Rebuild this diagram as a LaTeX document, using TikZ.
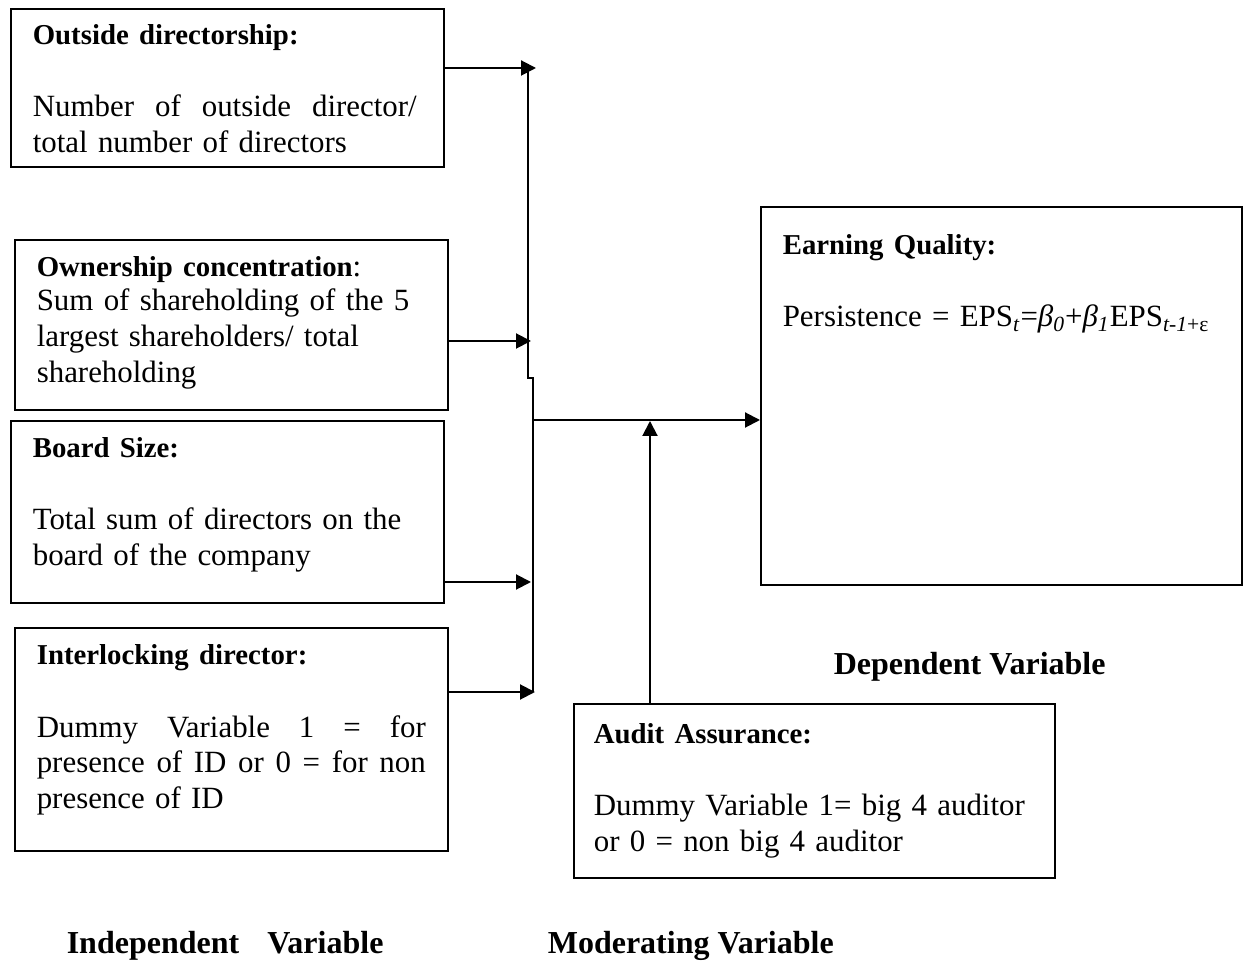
\documentclass[tikz,border=0pt]{standalone}
\usepackage{fontspec}
\setmainfont{Liberation Serif}
\usetikzlibrary{arrows.meta}

\newcommand\hd[1]{{\fontsize{14.4}{18}\selectfont\bfseries #1}}

\begin{document}
\begin{tikzpicture}[x=0.5pt, y=-0.5pt, thick,
    box/.style = {draw, line width=0.9pt, anchor=north west, inner sep=0pt},
    txt/.style = {anchor=base west, inner sep=0pt, text width=200pt, font=\fontsize{15.45}{18}\selectfont},
    lab/.style = {anchor=base west, inner sep=0pt, font=\fontsize{16}{18}\selectfont\bfseries},
    arr/.style = {-{Triangle[length=7.5pt, width=7.5pt]}, line width=1pt},
    bus/.style = {line width=0.8pt}]
    \useasboundingbox (0,0) rectangle (1247,961);
    % Nodes

    \node[box, minimum width=216.5pt, minimum height=79pt] (od) at (10,8) {};
    \node[txt, text width=192pt] (odt) at (32,45) {\hd{Outside directorship:}\\[18pt]
        \makebox[192pt][l]{Number \hfill of \hfill outside \hfill director/}\\ total number of directors};

    \node[box, minimum width=216.5pt, minimum height=85pt] (oc) at (14,239) {};
    \node[txt] (oct) at (36,277) {\hd{Ownership concentration}:\\[-1pt]
        Sum of shareholding of the 5\\ largest shareholders/ total\\ shareholding};

    \node[box, minimum width=216.5pt, minimum height=91pt] (bs) at (10,420) {};
    \node[txt] (bst) at (32,458) {\hd{Board Size:}\\[18pt]
        Total sum of directors on the\\ board of the company};

    \node[box, minimum width=216.5pt, minimum height=111.5pt] (il) at (14,627) {};
    \node[txt, text width=194.5pt] (ilt) at (36,665) {\hd{Interlocking director:}\\[18pt]
        \makebox[194.5pt][l]{Dummy \hfill Variable \hfill 1 \hfill = \hfill for}\\
        \makebox[194.5pt][l]{presence \hfill of \hfill ID \hfill or \hfill 0 \hfill = \hfill for \hfill non}\\ presence of ID};

    \node[box, minimum width=240.5pt, minimum height=189pt] (eq) at (760,206) {};
    \node[txt, text width=236pt] (eqt) at (782,255) {\hd{Earning Quality:}\\[18pt]
        Persistence = EPS\textsubscript{\textit{t}}=\textit{β}\textsubscript{\textit{0}}+\textit{β}\textsubscript{\textit{1}}EPS\textsubscript{\textit{t-1}+ε}};

    \node[box, minimum width=240.5pt, minimum height=87pt] (aa) at (573,703) {};
    \node[txt, text width=236pt] (aat) at (593,743) {\hd{Audit Assurance:}\\[18pt]
        Dummy Variable 1= big 4 auditor\\ or 0 = non big 4 auditor};

    \node[lab] (dv) at (833,675) {Dependent Variable};
    \node[lab] (iv) at (66,953) {Independent\hspace{14pt}Variable};
    \node[lab] (mv) at (547,953) {Moderating Variable};

    \coordinate (b1) at (528,68);
    \coordinate (b2) at (528,378);
    \coordinate (b3) at (533,378);
    \coordinate (b4) at (533,692);
    \coordinate (t1) at (536,68);
    \coordinate (t2) at (531,341);
    \coordinate (t3) at (531,582);
    \coordinate (t4) at (535,692);
    \coordinate (m) at (533,420);
    \coordinate (u) at (650,421);

    % Edges

    \draw[bus] (b1) -- (b2) -- (b3) -- (b4);
    \draw[arr] (od.east |- t1) -- (t1);
    \draw[arr] (oc.east |- t2) -- (t2);
    \draw[arr] (bs.east |- t3) -- (t3);
    \draw[arr] (il.east |- t4) -- (t4);
    \draw[arr] (m) -- (eq.west |- m);
    \draw[arr] (u |- aa.north) -- (u);

\end{tikzpicture}
\end{document}
